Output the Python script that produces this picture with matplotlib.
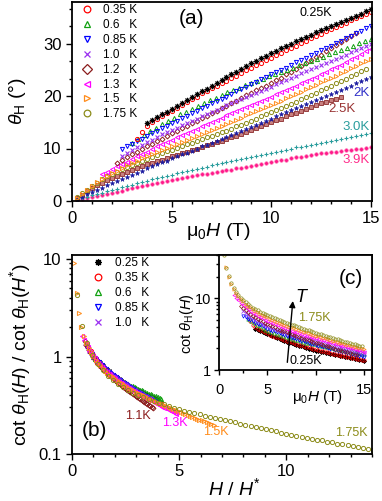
import numpy as np
import matplotlib
matplotlib.use('Agg')
import matplotlib.pyplot as plt
from matplotlib.ticker import MultipleLocator, AutoMinorLocator, FixedLocator, FixedFormatter
from matplotlib.lines import Line2D

plt.rcParams['font.family'] = ['Liberation Sans', 'DejaVu Sans']
plt.rcParams['mathtext.fontset'] = 'custom'
plt.rcParams['mathtext.rm'] = 'Liberation Sans'
plt.rcParams['mathtext.it'] = 'Liberation Sans:italic'
plt.rcParams['mathtext.bf'] = 'Liberation Sans:bold'

# Hall angle theta_H (deg) vs mu0*H (T); field sweep starts at h0_* with 0.25 T steps
h0_025 = 3.75
theta_025 = [14.9, 15.5, 16.0, 16.5, 17.0, 17.5, 18.1, 18.7, 19.2, 19.8, 20.3, 20.9, 21.4, 22.0, 22.5, 23.0,
             23.6, 24.1, 24.6, 25.2, 25.7, 26.2, 26.7, 27.2, 27.7, 28.2, 28.6, 29.1, 29.5, 30.0, 30.4, 30.8,
             31.3, 31.7, 32.1, 32.5, 32.9, 33.3, 33.7, 34.1, 34.5, 34.9, 35.3, 35.7, 36.1, 36.5]
h0_035 = 3.25
theta_035 = [11.9, 13.2, 14.2, 15.0, 15.6, 16.1, 16.7, 17.2, 17.8, 18.3, 18.9, 19.4, 19.9, 20.5, 21.0, 21.5,
             22.0, 22.4, 22.9, 23.4, 23.9, 24.4, 24.9, 25.4, 25.9, 26.3, 26.8, 27.3, 27.8, 28.2, 28.7, 29.2,
             29.6, 30.1, 30.5, 31.0, 31.4, 31.9, 32.3, 32.7, 33.1, 33.6, 34.0, 34.4, 34.8, 35.2, 35.6, 36.0]
h0_06 = 3.0   # 0.3 T steps
theta_06 = [11.0, 11.8, 12.5, 13.3, 13.9, 14.6, 15.3, 15.9, 16.5, 17.0, 17.6, 18.1, 18.7, 19.2, 19.7, 20.2,
            20.7, 21.2, 21.6, 22.1, 22.5, 22.9, 23.3, 23.8, 24.2, 24.6, 25.0, 25.4, 25.9, 26.3, 26.7, 27.1,
            27.5, 28.0, 28.4, 28.8, 29.2, 29.6, 30.1, 30.5, 30.9]
h0_085 = 2.5
theta_085 = [9.9, 10.4, 10.9, 11.4, 11.9, 12.4, 12.9, 13.4, 13.9, 14.3, 14.8, 15.3, 15.8, 16.2, 16.7, 17.2,
             17.7, 18.1, 18.6, 19.0, 19.5, 19.9, 20.4, 20.9, 21.3, 21.8, 22.3, 22.7, 23.2, 23.6, 24.1, 24.5,
             25.0, 25.4, 25.9, 26.4, 26.9, 27.3, 27.8, 28.2, 28.7, 29.1, 29.6, 30.1, 30.5, 31.0, 31.5, 32.0,
             32.4, 32.9, 33.4]
h0_10 = 2.5
theta_10 = [8.6, 9.2, 9.7, 10.2, 10.7, 11.2, 11.7, 12.2, 12.7, 13.1, 13.6, 14.0, 14.5, 14.9, 15.3, 15.7,
            16.2, 16.6, 17.0, 17.4, 17.8, 18.2, 18.6, 19.0, 19.4, 19.8, 20.2, 20.6, 21.0, 21.4, 21.8, 22.2,
            22.6, 23.1, 23.5, 23.9, 24.3, 24.7, 25.1, 25.5, 25.9, 26.3, 26.7, 27.1, 27.5, 27.9, 28.3, 28.7,
            29.1, 29.5, 29.9]
h0_12 = 2.25
theta_12 = [7.3, 7.9, 8.4, 8.9, 9.4, 9.9, 10.4, 10.9, 11.4, 11.9, 12.4, 12.9, 13.4, 13.9, 14.3, 14.8,
            15.3, 15.8, 16.2, 16.7, 17.2, 17.7, 18.1, 18.6, 19.1, 19.6, 20.1, 20.6, 21.1, 21.5, 22.0, 22.5,
            23.0, 23.5, 24.1, 24.6, 25.1, 25.7, 26.2, 26.8, 27.4, 27.9, 28.5, 29.1, 29.7, 30.2, 30.8, 31.4,
            32.0]
h0_13 = 1.5
theta_13 = [5.1, 5.6, 6.1, 6.6, 7.1, 7.5, 8.0, 8.5, 9.0, 9.4, 9.9, 10.4, 10.8, 11.3, 11.7, 12.1,
            12.6, 13.0, 13.4, 13.8, 14.3, 14.7, 15.1, 15.5, 15.9, 16.3, 16.7, 17.1, 17.5, 17.9, 18.3, 18.7,
            19.1, 19.5, 19.9, 20.3, 20.7, 21.2, 21.6, 22.0, 22.4, 22.9, 23.3, 23.7, 24.2, 24.6, 25.1, 25.6,
            26.0, 26.5, 27.0, 27.5, 28.0, 28.5, 29.0]
h0_15 = 0.25
theta_15 = [0.65, 1.3, 2.1, 2.9, 3.6, 4.2, 4.8, 5.3, 5.8, 6.3, 6.8, 7.2, 7.6, 8.1, 8.5, 8.9,
            9.3, 9.7, 10.1, 10.5, 10.9, 11.3, 11.6, 12.0, 12.4, 12.8, 13.2, 13.6, 14.0, 14.3, 14.7, 15.1,
            15.5, 15.9, 16.3, 16.7, 17.1, 17.5, 17.9, 18.3, 18.7, 19.1, 19.6, 20.0, 20.4, 20.8, 21.3, 21.7,
            22.1, 22.6, 23.0, 23.5, 23.9, 24.4, 24.8, 25.3, 25.7, 26.2, 26.6, 27.1]
h0_175 = 0.25
theta_175 = [0.7, 1.45, 2.15, 2.85, 3.5, 4.1, 4.7, 5.2, 5.6, 6.1, 6.5, 6.9, 7.3, 7.7, 8.0, 8.4,
             8.8, 9.1, 9.5, 9.8, 10.1, 10.5, 10.8, 11.1, 11.4, 11.8, 12.1, 12.4, 12.7, 13.1, 13.4, 13.8,
             14.2, 14.5, 14.9, 15.3, 15.7, 16.1, 16.5, 16.9, 17.3, 17.7, 18.1, 18.5, 18.9, 19.4, 19.8, 20.2,
             20.6, 21.1, 21.5, 22.0, 22.4, 22.9, 23.3, 23.8, 24.2, 24.7, 25.1]
h0_2 = 0.25
theta_2 = [0.4, 0.8, 1.25, 1.7, 2.1, 2.55, 3.0, 3.4, 3.8, 4.2, 4.6, 5.0, 5.4, 5.8, 6.2, 6.6,
           7.0, 7.4, 7.7, 8.1, 8.5, 8.9, 9.2, 9.6, 10.0, 10.4, 10.7, 11.1, 11.5, 11.9, 12.2, 12.6,
           13.0, 13.4, 13.7, 14.1, 14.5, 14.9, 15.3, 15.7, 16.1, 16.5, 16.9, 17.3, 17.7, 18.1, 18.5, 18.9,
           19.3, 19.6, 20.0, 20.4, 20.8, 21.2, 21.6, 22.0, 22.4, 22.8, 23.2, 23.6]
h0_25 = 0.25
theta_25 = [0.6, 1.2, 1.85, 2.5, 3.0, 3.5, 4.0, 4.4, 4.8, 5.2, 5.6, 6.0, 6.3, 6.7, 7.0, 7.3,
            7.6, 7.9, 8.2, 8.5, 8.8, 9.1, 9.4, 9.7, 10.0, 10.3, 10.6, 10.9, 11.2, 11.5, 11.8, 12.1,
            12.4, 12.8, 13.1, 13.5, 13.9, 14.2, 14.6, 15.0, 15.4, 15.7, 16.1, 16.5, 16.8, 17.2, 17.6, 17.9,
            18.2, 18.6, 18.9, 19.2, 19.5, 19.8]
h0_30 = 0.25
theta_30 = [0.25, 0.5, 0.8, 1.05, 1.3, 1.55, 1.85, 2.1, 2.35, 2.6, 2.85, 3.1, 3.35, 3.6, 3.85, 4.1,
            4.3, 4.55, 4.8, 5.0, 5.25, 5.45, 5.7, 5.9, 6.1, 6.35, 6.55, 6.8, 7.0, 7.2, 7.4, 7.6,
            7.8, 8.0, 8.2, 8.4, 8.6, 8.8, 9.0, 9.2, 9.4, 9.6, 9.8, 10.0, 10.2, 10.35, 10.55, 10.7,
            10.9, 11.05, 11.25, 11.4, 11.6, 11.75, 11.95, 12.1, 12.3, 12.5, 12.7, 12.9]
h0_39 = 0.25
theta_39 = [0.2, 0.4, 0.6, 0.8, 1.0, 1.2, 1.4, 1.6, 1.8, 2.0, 2.2, 2.4, 2.6, 2.8, 3.0, 3.2,
            3.4, 3.6, 3.8, 4.0, 4.2, 4.35, 4.5, 4.7, 4.9, 5.05, 5.2, 5.4, 5.55, 5.7, 5.85, 6.0,
            6.2, 6.35, 6.5, 6.7, 6.9, 7.05, 7.2, 7.4, 7.55, 7.75, 7.9, 8.1, 8.3, 8.45, 8.6, 8.8,
            8.9, 9.05, 9.2, 9.3, 9.4, 9.55, 9.7, 9.8, 9.9, 10.0, 10.1, 10.2]

# scaling fields H* (T) used in panel (b), for 0.25 ... 1.75 K
t_scaled = ['0.25', '0.35', '0.6', '0.85', '1.0', '1.2', '1.3', '1.5', '1.75']
h_star = [3.8, 3.6, 3.6, 3.8, 4.0, 3.77, 3.08, 2.27, 1.05]

legend_a = ['0.35 K', '0.6   K', '0.85 K', '1.0   K', '1.2   K', '1.3   K', '1.5   K', '1.75 K']
legend_b = ['0.25 K', '0.35 K', '0.6   K', '0.85 K', '1.0   K']


STYLE = {
    '0.25': dict(marker=(8, 2, 0), mfc='k', mec='k', mew=0.7, ms=3.8),
    '0.35': dict(marker='o', mfc='none', mec='#ff0000', mew=0.7, ms=3.0),
    '0.6':  dict(marker='^', mfc='none', mec='#10a010', mew=0.7, ms=3.0),
    '0.85': dict(marker='v', mfc='none', mec='#0000ff', mew=0.7, ms=3.0),
    '1.0':  dict(marker='x', mfc='none', mec='#9a30f0', mew=0.8, ms=3.0),
    '1.2':  dict(marker='D', mfc='none', mec='#8b1c1c', mew=0.7, ms=2.5),
    '1.3':  dict(marker='<', mfc='none', mec='#ff00ff', mew=0.7, ms=3.0),
    '1.5':  dict(marker='>', mfc='none', mec='#ff8c1a', mew=0.7, ms=3.0),
    '1.75': dict(marker='o', mfc='none', mec='#8c8c1a', mew=0.7, ms=3.0),
    '2':    dict(marker='*', mfc='#1a1aa0', mec='#1a1aa0', mew=0.4, ms=3.4),
    '2.5':  dict(marker='s', mfc='#c88080', mec='#8b2a2a', mew=0.6, ms=2.6),
    '3.0':  dict(marker='+', mfc='none', mec='#2a9d9d', mew=0.8, ms=3.2),
    '3.9':  dict(marker='o', mfc='#ff1a8c', mec='#ff70b0', mew=0.4, ms=2.6),
}


def field(h0, vals, step=0.25):
    return h0 + step * np.arange(len(vals))


def cot(theta):
    return 1.0 / np.tan(np.radians(theta))


def style_axes(ax, lab=12, pad=3.5, maj=4, mnr=2.5):
    for s in ax.spines.values():
        s.set_linewidth(1.3)
    ax.tick_params(which='both', direction='out', width=1, labelsize=lab, pad=pad)
    ax.tick_params(which='major', length=maj)
    ax.tick_params(which='minor', length=mnr)


def main():
    curves = {
        '0.25': (field(h0_025, theta_025), np.array(theta_025)),
        '0.35': (field(h0_035, theta_035), np.array(theta_035)),
        '0.6':  (field(h0_06, theta_06, 0.3), np.array(theta_06)),
        '0.85': (field(h0_085, theta_085), np.array(theta_085)),
        '1.0':  (field(h0_10, theta_10), np.array(theta_10)),
        '1.2':  (field(h0_12, theta_12), np.array(theta_12)),
        '1.3':  (field(h0_13, theta_13), np.array(theta_13)),
        '1.5':  (field(h0_15, theta_15), np.array(theta_15)),
        '1.75': (field(h0_175, theta_175), np.array(theta_175)),
        '2':    (field(h0_2, theta_2), np.array(theta_2)),
        '2.5':  (field(h0_25, theta_25), np.array(theta_25)),
        '3.0':  (field(h0_30, theta_30), np.array(theta_30)),
        '3.9':  (field(h0_39, theta_39), np.array(theta_39)),
    }

    fig = plt.figure(figsize=(3.82, 5.01), dpi=100)
    ax_a = fig.add_axes([72 / 382, 300 / 501, 300 / 382, 199.5 / 501])
    ax_b = fig.add_axes([72 / 382, 47 / 501, 300 / 382, 199 / 501])
    ax_c = fig.add_axes([219 / 382, 131 / 501, 153 / 382, 115 / 501])

    # ---- panel (a)
    order = ['3.9', '3.0', '2.5', '2', '1.75', '1.5', '1.3', '1.2', '1.0', '0.6', '0.85', '0.35', '0.25']
    for t in order:
        h, th = curves[t]
        ax_a.plot(h, th, ls='none', **STYLE[t])
    ax_a.set_xlim(0, 15.05)
    ax_a.set_ylim(0, 38)
    ax_a.xaxis.set_major_locator(MultipleLocator(5))
    ax_a.xaxis.set_minor_locator(MultipleLocator(1))
    ax_a.yaxis.set_major_locator(MultipleLocator(10))
    ax_a.yaxis.set_minor_locator(AutoMinorLocator(3))
    style_axes(ax_a)
    ax_a.set_xlabel(r'μ$_0$$H$ (T)', fontsize=14)
    ax_a.xaxis.set_label_coords(0.488, -0.1)
    ax_a.set_ylabel(r'$\theta_\mathrm{H}$ (°)', fontsize=14)
    ax_a.yaxis.set_label_coords(-0.145, 0.5)

    hd = []
    for t in ['0.35', '0.6', '0.85', '1.0', '1.2', '1.3', '1.5', '1.75']:
        st = dict(STYLE[t])
        st['ms'] = 4.8
        st['mew'] = 0.9
        hd.append(Line2D([], [], ls='none', **st))
    ax_a.legend(hd, legend_a, loc='upper left', bbox_to_anchor=(0.035, 0.985), borderaxespad=0,
                borderpad=0, frameon=False, fontsize=8.5, handlelength=0.8, handletextpad=0.9,
                labelspacing=0.24)

    ax_a.text(5.97, 34.7, '(a)', fontsize=15, ha='center', va='center')
    ax_a.text(12.24, 35.9, '0.25K', fontsize=9, ha='center', va='center', color='k')
    ax_a.text(14.5, 20.5, '2K', fontsize=9.5, ha='center', va='center', color='#3030c8')
    ax_a.text(13.55, 17.6, '2.5K', fontsize=9.5, ha='center', va='center', color='#993333')
    ax_a.text(14.25, 14.0, '3.0K', fontsize=9.5, ha='center', va='center', color='#2a9d9d')
    ax_a.text(14.25, 7.8, '3.9K', fontsize=9.5, ha='center', va='center', color='#ff2a8a')

    # ---- panel (b): scaled cot(theta_H)
    for t, hs in zip(t_scaled, h_star):
        h, th = curves[t]
        c = cot(th)
        c_star = np.interp(hs, h, c)
        st = dict(STYLE[t])
        ax_b.plot(h / hs, c / c_star, ls='none', **st)
    ax_b.set_yscale('log')
    ax_b.set_xlim(0, 14)
    ax_b.set_ylim(0.1, 11)
    ax_b.xaxis.set_major_locator(MultipleLocator(5))
    ax_b.xaxis.set_minor_locator(MultipleLocator(1))
    ax_b.yaxis.set_major_locator(FixedLocator([0.1, 1, 10]))
    ax_b.yaxis.set_major_formatter(FixedFormatter(['0.1', '1', '10']))
    style_axes(ax_b)
    ax_b.set_xlabel(r'$H$ / $H^{*}$', fontsize=14)
    ax_b.xaxis.set_label_coords(0.54, -0.115)
    ax_b.set_ylabel(r'cot $\theta_\mathrm{H}(H)$ / cot $\theta_\mathrm{H}(H^{*})$', fontsize=14)
    ax_b.yaxis.set_label_coords(-0.13, 0.5)

    hd = []
    for t in ['0.25', '0.35', '0.6', '0.85', '1.0']:
        st = dict(STYLE[t])
        st['ms'] = 4.8
        st['mew'] = 0.9
        hd.append(Line2D([], [], ls='none', **st))
    ax_b.legend(hd, legend_b, loc='upper left', bbox_to_anchor=(0.072, 0.99), borderaxespad=0,
                borderpad=0, frameon=False, fontsize=8.5, handlelength=0.8, handletextpad=1.05,
                labelspacing=0.26)

    ax_b.text(1.07, 0.175, '(b)', fontsize=15, ha='center', va='center')
    ax_b.text(3.08, 0.248, '1.1K', fontsize=9, ha='center', va='center', color='#8b1c1c')
    ax_b.text(4.81, 0.21, '1.3K', fontsize=9, ha='center', va='center', color='#ff00ff')
    ax_b.text(6.72, 0.167, '1.5K', fontsize=9, ha='center', va='center', color='#ff8c1a')
    ax_b.text(13.02, 0.163, '1.75K', fontsize=9, ha='center', va='center', color='#8c8c1a')

    # ---- inset (c): cot(theta_H) vs field
    ax_c.set_facecolor('white')
    for t in t_scaled:
        h, th = curves[t]
        st = dict(STYLE[t])
        st['ms'] = st['ms'] * 0.8
        st['mew'] = 0.5
        ax_c.plot(h, cot(th), ls='none', **st)
    ax_c.set_yscale('log')
    ax_c.set_xlim(0, 15.8)
    ax_c.set_ylim(1, 40)
    ax_c.xaxis.set_major_locator(FixedLocator([0, 5, 10, 15]))
    ax_c.xaxis.set_major_formatter(FixedFormatter(['0', '5', '', '15']))
    ax_c.xaxis.set_minor_locator(MultipleLocator(2.5))
    ax_c.yaxis.set_major_locator(FixedLocator([1, 10]))
    ax_c.yaxis.set_major_formatter(FixedFormatter(['1', '10']))
    style_axes(ax_c, lab=10.5, pad=2, maj=3.5, mnr=2)
    ax_c.tick_params(axis='x', pad=6)
    ax_c.set_xlabel(r'μ$_0$$H$ (T)', fontsize=11)
    ax_c.xaxis.set_label_coords(0.647, -0.155)
    ax_c.set_ylabel(r'cot $\theta_\mathrm{H}(H)$', fontsize=10.5)
    ax_c.yaxis.set_label_coords(-0.15, 0.4)

    ax_c.annotate('', xy=(7.65, 10.0), xytext=(7.03, 1.17),
                  arrowprops=dict(arrowstyle='-|>', color='k', lw=1, mutation_scale=9))
    ax_c.text(8.58, 10.3, '$T$', fontsize=13, ha='center', va='center')
    ax_c.text(9.82, 5.27, '1.75K', fontsize=9, ha='center', va='center', color='#8c8c1a')
    ax_c.text(9.0, 1.33, '0.25K', fontsize=9, ha='center', va='center', color='k')
    ax_c.text(13.65, 19.0, '(c)', fontsize=15, ha='center', va='center')

    fig.savefig('out.png', dpi=100)


if __name__ == "__main__":
    main()
